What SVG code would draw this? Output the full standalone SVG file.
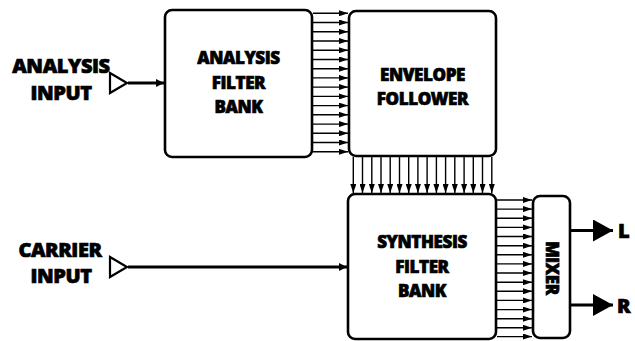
<svg xmlns="http://www.w3.org/2000/svg" width="635" height="341" viewBox="0 0 635 341">
<style>
.box{fill:#fff;stroke:#000;stroke-width:2.6}
.t{font-family:"Open Sans","Liberation Sans",sans-serif;font-weight:800;fill:#000;stroke:#000;stroke-width:0.7;text-anchor:middle;letter-spacing:-0.4px}
.big{font-size:20px}
.mid{font-size:17px}
.bus line{stroke:#000;stroke-width:1.4;marker-end:url(#sm)}
.wire{stroke:#000;stroke-width:2.8;fill:none}
</style>
<defs>
<marker id="sm" markerUnits="userSpaceOnUse" markerWidth="10" markerHeight="6" refX="9" refY="3" orient="auto"><path d="M0,0 L9,3 L0,6 z" fill="#000"/></marker>
<marker id="md" markerUnits="userSpaceOnUse" markerWidth="9" markerHeight="9" refX="8" refY="4" orient="auto"><path d="M0,0 L8,4 L0,8 z" fill="#000"/></marker>
<marker id="lg" markerUnits="userSpaceOnUse" markerWidth="21" markerHeight="23" refX="20" refY="11" orient="auto"><path d="M0,0 L20,11 L0,22 z" fill="#000"/></marker>
</defs>

<g id="connectors">
<g id="bus-analysis-envelope" class="bus">
<line x1="313" y1="13.3" x2="348" y2="13.3"/>
<line x1="313" y1="22.5" x2="348" y2="22.5"/>
<line x1="313" y1="31.8" x2="348" y2="31.8"/>
<line x1="313" y1="41" x2="348" y2="41"/>
<line x1="313" y1="50.2" x2="348" y2="50.2"/>
<line x1="313" y1="59.5" x2="348" y2="59.5"/>
<line x1="313" y1="68.7" x2="348" y2="68.7"/>
<line x1="313" y1="77.9" x2="348" y2="77.9"/>
<line x1="313" y1="87.1" x2="348" y2="87.1"/>
<line x1="313" y1="96.4" x2="348" y2="96.4"/>
<line x1="313" y1="105.6" x2="348" y2="105.6"/>
<line x1="313" y1="114.8" x2="348" y2="114.8"/>
<line x1="313" y1="124.1" x2="348" y2="124.1"/>
<line x1="313" y1="133.3" x2="348" y2="133.3"/>
<line x1="313" y1="142.5" x2="348" y2="142.5"/>
<line x1="313" y1="151.8" x2="348" y2="151.8"/>
</g>
<g id="bus-envelope-synthesis" class="bus">
<line x1="353.3" y1="157" x2="353.3" y2="193"/>
<line x1="362.5" y1="157" x2="362.5" y2="193"/>
<line x1="371.8" y1="157" x2="371.8" y2="193"/>
<line x1="381" y1="157" x2="381" y2="193"/>
<line x1="390.2" y1="157" x2="390.2" y2="193"/>
<line x1="399.5" y1="157" x2="399.5" y2="193"/>
<line x1="408.7" y1="157" x2="408.7" y2="193"/>
<line x1="417.9" y1="157" x2="417.9" y2="193"/>
<line x1="427.1" y1="157" x2="427.1" y2="193"/>
<line x1="436.4" y1="157" x2="436.4" y2="193"/>
<line x1="445.6" y1="157" x2="445.6" y2="193"/>
<line x1="454.8" y1="157" x2="454.8" y2="193"/>
<line x1="464.1" y1="157" x2="464.1" y2="193"/>
<line x1="473.3" y1="157" x2="473.3" y2="193"/>
<line x1="482.5" y1="157" x2="482.5" y2="193"/>
<line x1="491.8" y1="157" x2="491.8" y2="193"/>
</g>
<g id="bus-synthesis-mixer" class="bus">
<line x1="497" y1="200" x2="532" y2="200"/>
<line x1="497" y1="209.1" x2="532" y2="209.1"/>
<line x1="497" y1="218.3" x2="532" y2="218.3"/>
<line x1="497" y1="227.4" x2="532" y2="227.4"/>
<line x1="497" y1="236.5" x2="532" y2="236.5"/>
<line x1="497" y1="245.7" x2="532" y2="245.7"/>
<line x1="497" y1="254.8" x2="532" y2="254.8"/>
<line x1="497" y1="263.9" x2="532" y2="263.9"/>
<line x1="497" y1="273" x2="532" y2="273"/>
<line x1="497" y1="282.2" x2="532" y2="282.2"/>
<line x1="497" y1="291.3" x2="532" y2="291.3"/>
<line x1="497" y1="300.4" x2="532" y2="300.4"/>
<line x1="497" y1="309.6" x2="532" y2="309.6"/>
<line x1="497" y1="318.7" x2="532" y2="318.7"/>
<line x1="497" y1="327.8" x2="532" y2="327.8"/>
<line x1="497" y1="336.6" x2="532" y2="336.6"/>
</g>
<path class="wire" d="M128,83H164" marker-end="url(#md)"/>
<path class="wire" d="M128,267H347" marker-end="url(#md)"/>
<path d="M571,230.5H613" stroke="#000" stroke-width="3" fill="none" marker-end="url(#lg)"/>
<path d="M571,305H613" stroke="#000" stroke-width="3" fill="none" marker-end="url(#lg)"/>
</g>

<g id="analysis-input">
<text class="t big" x="61" y="73">ANALYSIS</text>
<text class="t big" x="61" y="100">INPUT</text>
<path d="M110,73 L127,83 L110,93 z" fill="#fff" stroke="#000" stroke-width="2.2"/>
</g>

<g id="carrier-input">
<text class="t big" x="60" y="257">CARRIER</text>
<text class="t big" x="61" y="283">INPUT</text>
<path d="M110,257 L127,267 L110,277 z" fill="#fff" stroke="#000" stroke-width="2.2"/>
</g>

<g id="analysis-filter-bank">
<rect class="box" x="165" y="10" width="147" height="147" rx="7"/>
<text class="t mid" x="238.5" y="64">ANALYSIS</text>
<text class="t mid" x="238.5" y="89">FILTER</text>
<text class="t mid" x="238.5" y="113">BANK</text>
</g>

<g id="envelope-follower">
<rect class="box" x="349" y="11" width="147" height="145" rx="7"/>
<text class="t mid" x="422.5" y="81">ENVELOPE</text>
<text class="t mid" x="422.5" y="105">FOLLOWER</text>
</g>

<g id="synthesis-filter-bank">
<rect class="box" x="348" y="194" width="148" height="145" rx="7"/>
<text class="t mid" x="422" y="248">SYNTHESIS</text>
<text class="t mid" x="422" y="273">FILTER</text>
<text class="t mid" x="422" y="297">BANK</text>
</g>

<g id="mixer">
<rect class="box" x="533" y="196" width="37" height="142" rx="7"/>
<text class="t mid" transform="translate(545.5,268) rotate(90)" x="0" y="0">MIXER</text>
</g>

<g id="out-l"><text class="t big" x="623.5" y="238">L</text></g>
<g id="out-r"><text class="t big" x="623.5" y="313">R</text></g>
</svg>
